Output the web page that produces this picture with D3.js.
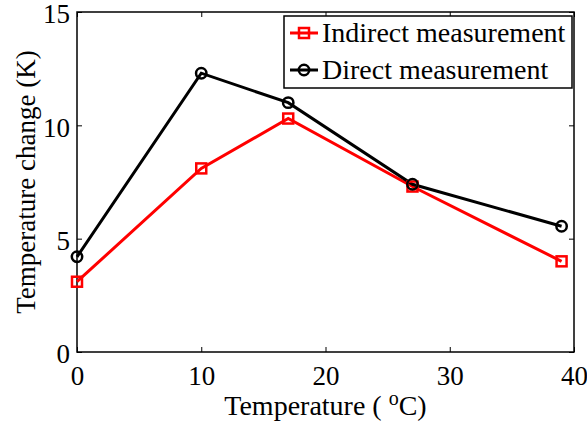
<!DOCTYPE html>
<html>
<head>
<meta charset="utf-8">
<script src="https://cdn.jsdelivr.net/npm/d3@7"></script>
<style>
  body { margin: 0; background: #fff; }
  text { font-family: "Liberation Serif", "Times New Roman", serif; fill: #000; }
</style>
</head>
<body>
<div id="chart"></div>
<script>
// data
var temps = [0, 10, 17, 27, 39];
var indirect = [3.1, 8.1, 10.3, 7.3, 4.0];
var direct = [4.2, 12.3, 11.0, 7.4, 5.55];
var xTicks = [0, 10, 20, 30, 40];
var yTicks = [0, 5, 10, 15];
var seriesNames = ["Indirect measurement", "Direct measurement"];

var w = 587, h = 431;
var margin = { top: 12, right: 13, bottom: 79, left: 77 };
var width = w - margin.left - margin.right;
var height = h - margin.top - margin.bottom;

var svg = d3.select("#chart").append("svg")
  .attr("width", w)
  .attr("height", h);

var g = svg.append("g")
  .attr("transform", `translate(${margin.left}, ${margin.top})`);

var x = d3.scaleLinear().domain([0, 40]).range([0, width]);
var y = d3.scaleLinear().domain([0, 15]).range([height, 0]);

// axes with inward ticks on all four sides
var tickLen = 5;
g.append("g").attr("transform", `translate(0, ${height})`)
  .call(d3.axisBottom(x).tickValues(xTicks).tickSizeInner(-tickLen).tickSizeOuter(0).tickPadding(14))
  .call(a => a.select(".domain").remove());
g.append("g")
  .call(d3.axisLeft(y).tickValues(yTicks).tickSizeInner(-tickLen).tickSizeOuter(0).tickPadding(7))
  .call(a => a.select(".domain").remove())
  .call(a => a.selectAll(".tick text").attr("dy", "0.4em"));
g.append("g")
  .call(d3.axisTop(x).tickValues(xTicks).tickSizeInner(-tickLen).tickSizeOuter(0).tickFormat(""))
  .call(a => a.select(".domain").remove());
g.append("g").attr("transform", `translate(${width}, 0)`)
  .call(d3.axisRight(y).tickValues(yTicks).tickSizeInner(-tickLen).tickSizeOuter(0).tickFormat(""))
  .call(a => a.select(".domain").remove());

g.selectAll(".tick line").attr("stroke", "#000").attr("stroke-width", 1);
g.selectAll(".tick text")
  .style("font-family", '"Liberation Serif", serif')
  .style("font-size", "27px")
  .attr("fill", "#000");

g.append("rect")
  .attr("width", width)
  .attr("height", height)
  .attr("fill", "none")
  .attr("stroke", "#000")
  .attr("stroke-width", 1.5);

// lines
var line = d3.line().x(d => x(d[0])).y(d => y(d[1]));
var redPts = temps.map((t, i) => [t, indirect[i]]);
var blackPts = temps.map((t, i) => [t, direct[i]]);

g.append("path").datum(redPts).attr("d", line)
  .attr("fill", "none").attr("stroke", "#ff0000").attr("stroke-width", 3);
g.append("path").datum(blackPts).attr("d", line)
  .attr("fill", "none").attr("stroke", "#000").attr("stroke-width", 3);

var sq = 10;
g.selectAll("rect.red").data(redPts).enter().append("rect")
  .attr("class", "red")
  .attr("x", d => x(d[0]) - sq / 2)
  .attr("y", d => y(d[1]) - sq / 2)
  .attr("width", sq).attr("height", sq)
  .attr("fill", "none").attr("stroke", "#ff0000").attr("stroke-width", 2.5);

g.selectAll("circle.blk").data(blackPts).enter().append("circle")
  .attr("class", "blk")
  .attr("cx", d => x(d[0]))
  .attr("cy", d => y(d[1]))
  .attr("r", 5.2)
  .attr("fill", "none").attr("stroke", "#000").attr("stroke-width", 2.5);

// axis labels
var xl = svg.append("text")
  .attr("x", margin.left + width / 2)
  .attr("y", 415)
  .attr("text-anchor", "middle")
  .style("font-size", "28px");
xl.append("tspan").text("Temperature ( ");
xl.append("tspan").attr("dy", -10).style("font-size", "20px").text("o");
xl.append("tspan").attr("dy", 10).text("C)");

svg.append("text")
  .attr("transform", `translate(35, ${margin.top + height / 2}) rotate(-90)`)
  .attr("text-anchor", "middle")
  .style("font-size", "27px")
  .text("Temperature change (K)");

// legend
var legend = svg.append("g");
legend.append("rect")
  .attr("x", 284).attr("y", 16)
  .attr("width", 288).attr("height", 72)
  .attr("fill", "#fff").attr("stroke", "#000").attr("stroke-width", 1.5);

var rowY = [33, 70];
var colors = ["#ff0000", "#000"];
seriesNames.forEach(function(name, i) {
  legend.append("line")
    .attr("x1", 290).attr("x2", 318)
    .attr("y1", rowY[i]).attr("y2", rowY[i])
    .attr("stroke", colors[i]).attr("stroke-width", 3);
  if (i === 0) {
    legend.append("rect")
      .attr("x", 304 - sq / 2).attr("y", rowY[i] - sq / 2)
      .attr("width", sq).attr("height", sq)
      .attr("fill", "none").attr("stroke", colors[i]).attr("stroke-width", 2.5);
  } else {
    legend.append("circle")
      .attr("cx", 304).attr("cy", rowY[i]).attr("r", 5.2)
      .attr("fill", "none").attr("stroke", colors[i]).attr("stroke-width", 2.5);
  }
  legend.append("text")
    .attr("x", 322).attr("y", rowY[i])
    .attr("dy", "0.33em")
    .style("font-size", "28px")
    .text(name);
});
</script>
</body>
</html>
